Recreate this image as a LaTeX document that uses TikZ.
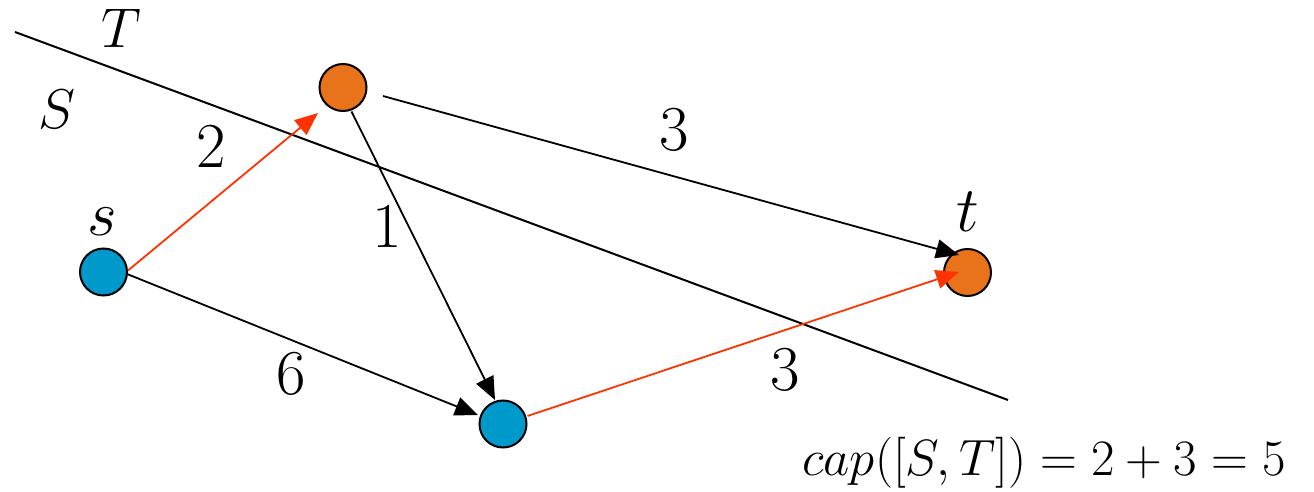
\RequirePackage{fix-cm}
\documentclass[tikz,border=0pt]{standalone}
\usepackage{fontspec}
\usetikzlibrary{arrows.meta,calc}
\definecolor{nblue}{RGB}{0,153,204}
\definecolor{norange}{RGB}{232,115,26}
\definecolor{ered}{RGB}{255,51,0}
\begin{document}
\begin{tikzpicture}[x=0.5pt,y=-0.5pt,
  vert/.style={circle,draw,line width=1pt,minimum size=23.5pt,inner sep=0pt},
  edge/.style={line width=0.9pt,-{Triangle[length=11.5pt,width=9.5pt]}},
  lbl/.style={inner sep=0pt,font=\fontsize{32}{38}\selectfont},
  setlbl/.style={inner sep=0pt,font=\fontsize{28}{34}\selectfont}]
\useasboundingbox (0,0) rectangle (1314,492);
% cut line
\coordinate (c1) at (15,32);
\coordinate (c2) at (1008,400);
\draw[line width=1pt] (c1) -- (c2);
% vertices
\node[vert,fill=nblue] (s) at (103.5,272) {};
\node[vert,fill=norange] (top) at (343,87.5) {};
\node[vert,fill=nblue] (bot) at (503,424) {};
\node[vert,fill=norange] (t) at (967.5,272.5) {};
% edges
\draw[edge,ered] ($(s)+(24.5,-1.5)$) -- ($(top)+(-25,25.5)$);
\draw[edge] ($(s)+(23.5,2)$) -- ($(bot)+(-25,-9)$);
\draw[edge] ($(top)+(8.5,24)$) -- ($(bot)+(-8,-24)$);
\draw[edge] ($(top)+(40,8.5)$) -- ($(t)+(-8.5,-17.5)$);
\draw[edge,ered] ($(bot)+(24.5,-8)$) -- ($(t)+(-8.5,-0.5)$);
% labels
\node[setlbl] (lT) at (121,28) {$T$};
\node[setlbl] (lS) at (57,109) {$S$};
\node[lbl] (ls) at (102.5,222) {$s$};
\node[lbl] (lt) at (968,212) {$t$};
\node[lbl] (w2) at (211,146.5) {2};
\node[lbl] (w1) at (387,226) {1};
\node[lbl] (w3a) at (674.5,130) {3};
\node[lbl] (w6) at (291,373.5) {6};
\node[lbl] (w3b) at (785.5,370) {3};
\node[inner sep=0pt,font=\fontsize{25.5}{30}\selectfont] (cap) at (1044,463) {$cap([S,T]) = 2 + 3 = 5$};
\end{tikzpicture}
\end{document}
